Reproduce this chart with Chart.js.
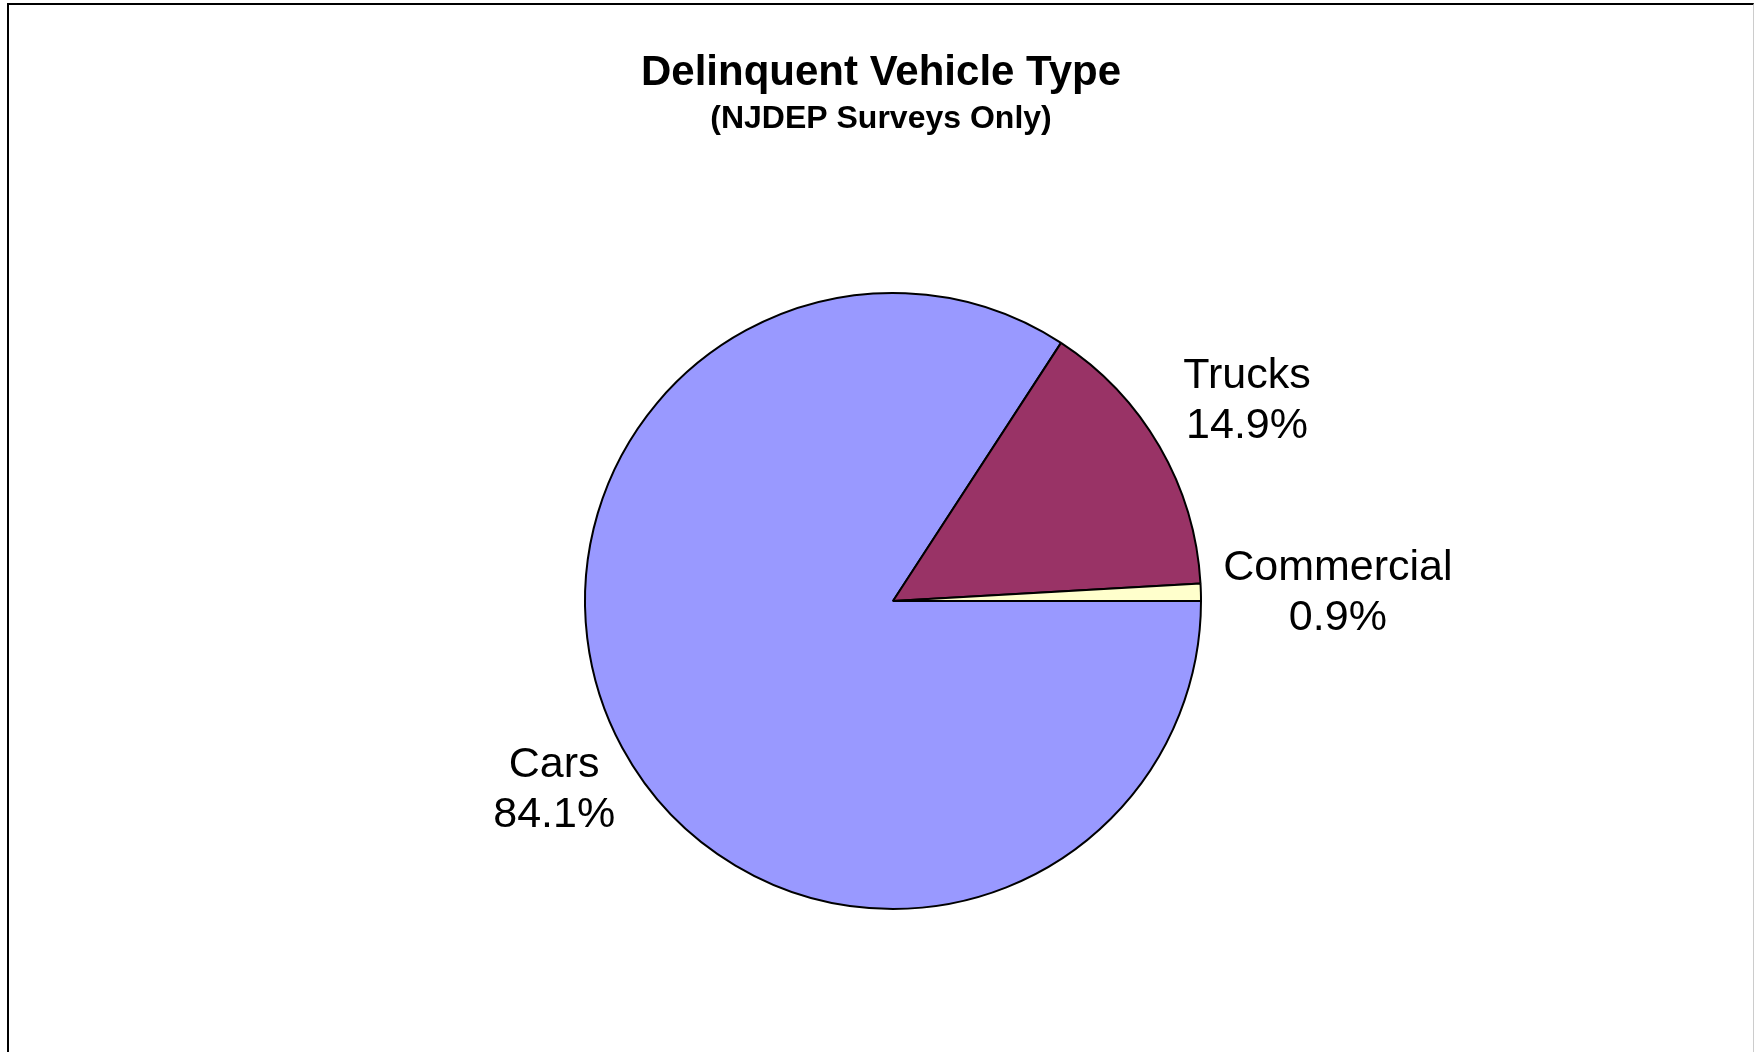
<!DOCTYPE html>
<html lang="en">

<head>
    <meta charset="UTF-8">
    <title>Delinquent Vehicle Type</title>
    <script src="https://cdnjs.cloudflare.com/ajax/libs/Chart.js/4.4.1/chart.umd.min.js"></script>
    <style>
        body {
            margin: 0;
            background: white;
            overflow: hidden;
        }

        .frame {
            position: absolute;
            left: 7px;
            top: 3px;
            width: 1744px;
            height: 1100px;
            border-left: 2px solid #000;
            border-top: 2px solid #000;
            border-right: 1px solid #ccc;
        }

        .chart-container {
            position: absolute;
            left: 0;
            top: 0;
            width: 1754px;
            height: 1052px;
        }
    </style>
</head>

<body>
    <div class="frame"></div>
    <div class="chart-container">
        <canvas id="pieChart"></canvas>
    </div>

    <script>
        // Data
        const categories = ['Cars', 'Trucks', 'Commercial'];
        const shares = [84.1, 14.9, 0.9];
        const sliceColors = ['#9999FF', '#993366', '#FFFFCC'];

        const titleText = 'Delinquent Vehicle Type';
        const subtitleText = '(NJDEP Surveys Only)';
        const fontFamily = '"Liberation Sans", Arial, sans-serif';

        // Titles + outside labels (Excel style: name on one line, percent below)
        const labelPlugin = {
            id: 'excelLabels',
            afterDatasetsDraw(chart) {
                const ctx = chart.ctx;
                ctx.save();
                ctx.fillStyle = '#000';
                ctx.textAlign = 'center';

                // title and subtitle
                ctx.textBaseline = 'alphabetic';
                ctx.font = 'bold 42px ' + fontFamily;
                ctx.fillText(titleText, 881, 85);
                ctx.font = 'bold 32px ' + fontFamily;
                ctx.fillText(subtitleText, 881, 128);

                // slice labels
                const lineH = 50;
                ctx.font = '43px ' + fontFamily;
                ctx.textBaseline = 'middle';
                chart.getDatasetMeta(0).data.forEach((arc, i) => {
                    const p = arc.getProps(['x', 'y', 'startAngle', 'endAngle', 'outerRadius'], true);
                    const mid = (p.startAngle + p.endAngle) / 2;
                    const lines = [categories[i], shares[i].toFixed(1) + '%'];
                    const w = Math.max(...lines.map(l => ctx.measureText(l).width));
                    const h = lines.length * lineH;
                    const cos = Math.cos(mid), sin = Math.sin(mid);
                    // right-hand labels sit a bit further out than left-hand ones
                    const gap = cos >= 0 ? 21 : 0;
                    const support = Math.abs(cos) * w / 2 + Math.abs(sin) * h / 2;
                    const d = p.outerRadius + gap + support;
                    const cx = p.x + cos * d;
                    const cy = p.y + sin * d + 5;
                    lines.forEach((l, j) => {
                        ctx.fillText(l, cx, cy - h / 2 + lineH * (j + 0.5));
                    });
                });
                ctx.restore();
            }
        };

        new Chart(document.getElementById('pieChart'), {
            type: 'pie',
            data: {
                labels: categories,
                datasets: [{
                    data: shares,
                    backgroundColor: sliceColors,
                    borderColor: '#000',
                    borderWidth: 2,
                    radius: 308
                }]
            },
            options: {
                responsive: true,
                maintainAspectRatio: false,
                animation: false,
                rotation: 90,
                layout: {
                    padding: { left: 493, right: 461, top: 201, bottom: 51 }
                },
                plugins: {
                    legend: { display: false },
                    tooltip: { enabled: false }
                }
            },
            plugins: [labelPlugin]
        });
    </script>
</body>

</html>
